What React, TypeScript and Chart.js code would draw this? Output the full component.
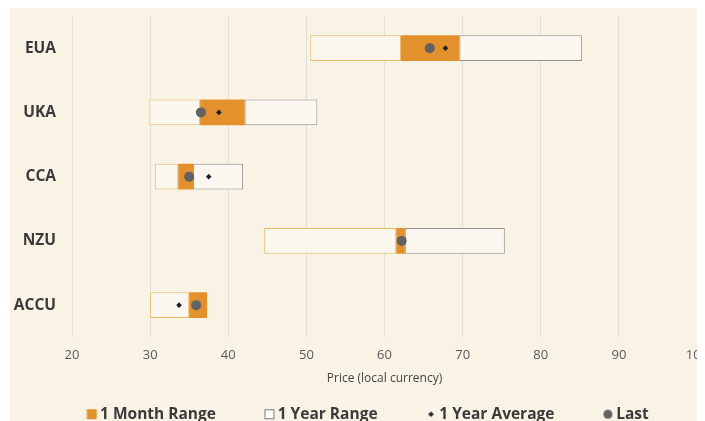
import React, { useEffect, useRef } from "react";
import { Chart, registerables } from "chart.js";

Chart.register(...registerables);

const categories = ["EUA", "UKA", "CCA", "NZU", "ACCU"];
const yearLow = [50.5, 29.9, 30.6, 44.6, 30.0];
const yearHigh = [85.3, 51.4, 41.9, 75.4, 37.3];
const monthLow = [62.1, 36.4, 33.6, 61.5, 35.0];
const monthHigh = [69.6, 42.1, 35.5, 62.6, 37.3];
const lastPrice = [65.8, 36.5, 35.0, 62.2, 35.9];
const yearAverage = [67.8, 38.8, 37.5, 62.0, 33.7];
const xMin = 20;
const xMax = 100;
const xStep = 10;
const axisTitle = "Price (local currency)";
const legendLabels = ["1 Month Range", "1 Year Range", "1 Year Average", "Last"];

const BG = "#F9F3E6";
const ORANGE = "#E2912D";
const BOX_FILL = "#FCF7EE";
const BOX_BORDER_LEFT = "#E9B766";
const BOX_BORDER_RIGHT = "#8F8F8F";
const LAST_COLOR = "#626262";
const AVG_COLOR = "#18202B";
const FONT = "'Open Sans', sans-serif";

const LEGEND_BOX = 44;

function makeMarker(draw: (ctx: CanvasRenderingContext2D, cx: number, cy: number) => void) {
  const c = document.createElement("canvas");
  c.width = LEGEND_BOX + 20;
  c.height = 16;
  const ctx = c.getContext("2d")!;
  draw(ctx, LEGEND_BOX + 9.5, 8);
  return c;
}

export default function App() {
  const ref = useRef<HTMLCanvasElement | null>(null);

  useEffect(() => {
    if (!ref.current) return;
    Chart.defaults.font.family = FONT;

    const mMonth = makeMarker((ctx, cx, cy) => {
      ctx.fillStyle = ORANGE;
      ctx.fillRect(cx - 5, cy - 5, 10, 10);
    });
    const mYear = makeMarker((ctx, cx, cy) => {
      ctx.fillStyle = "#FFFFFF";
      ctx.fillRect(cx - 5, cy - 5, 10, 10);
      ctx.strokeStyle = "#7A7A7A";
      ctx.lineWidth = 1;
      ctx.strokeRect(cx - 4.5, cy - 4.5, 9, 9);
    });
    const mAvg = makeMarker((ctx, cx, cy) => {
      ctx.fillStyle = AVG_COLOR;
      ctx.beginPath();
      ctx.moveTo(cx, cy - 2.8);
      ctx.lineTo(cx + 2.8, cy);
      ctx.lineTo(cx, cy + 2.8);
      ctx.lineTo(cx - 2.8, cy);
      ctx.closePath();
      ctx.fill();
    });
    const mLast = makeMarker((ctx, cx, cy) => {
      ctx.fillStyle = LAST_COLOR;
      ctx.beginPath();
      ctx.arc(cx, cy, 4.5, 0, Math.PI * 2);
      ctx.fill();
    });
    const markers = [mMonth, mYear, mAvg, mLast];
    const legendDatasetIdx = [2, 0, 4, 3];

    const chart = new Chart(ref.current, {
      type: "bar",
      data: {
        labels: categories,
        datasets: [
          {
            type: "bar",
            label: "1 Year Range (low)",
            data: categories.map((_, i) => [yearLow[i], monthLow[i]]),
            backgroundColor: BOX_FILL,
            borderColor: BOX_BORDER_LEFT,
            borderWidth: 1,
            borderSkipped: false,
            grouped: false,
            order: 4,
          } as any,
          {
            type: "bar",
            label: "1 Year Range (high)",
            data: categories.map((_, i) => [monthHigh[i], yearHigh[i]]),
            backgroundColor: BOX_FILL,
            borderColor: BOX_BORDER_RIGHT,
            borderWidth: 1,
            borderSkipped: false,
            grouped: false,
            order: 3,
          } as any,
          {
            type: "bar",
            label: "1 Month Range",
            data: categories.map((_, i) => [monthLow[i], monthHigh[i]]),
            backgroundColor: ORANGE,
            borderWidth: 0,
            grouped: false,
            order: 2,
          } as any,
          {
            type: "line",
            label: "Last",
            indexAxis: "y",
            data: categories.map((c, i) => ({ x: lastPrice[i], y: c })),
            showLine: false,
            pointStyle: "circle",
            pointRadius: 5,
            pointBackgroundColor: LAST_COLOR,
            pointBorderWidth: 0,
            order: 0,
          } as any,
          {
            type: "line",
            label: "1 Year Average",
            indexAxis: "y",
            data: categories.map((c, i) => ({ x: yearAverage[i], y: c })),
            showLine: false,
            pointStyle: "rectRot",
            pointRadius: 2.8,
            pointBackgroundColor: AVG_COLOR,
            pointBorderWidth: 0,
            order: 1,
          } as any,
        ],
      },
      options: {
        indexAxis: "y",
        responsive: false,
        animation: false,
        devicePixelRatio: 1,
        layout: { padding: { left: -10, right: 51, top: 8, bottom: 0 } },
        datasets: {
          bar: { categoryPercentage: 0.4, barPercentage: 1 },
        },
        scales: {
          x: {
            type: "linear",
            min: xMin,
            max: xMax,
            grid: { color: "#E4DFD6", drawTicks: false, lineWidth: 1 },
            border: { display: false },
            ticks: {
              stepSize: xStep,
              padding: 10,
              color: "#595959",
              font: { size: 13, family: FONT },
            },
            title: {
              display: true,
              text: axisTitle,
              color: "#444444",
              font: { size: 12, family: FONT },
              padding: { top: 8, bottom: 11 },
            },
            afterFit: (scale: any) => {
              scale.height = 59.25;
            },
          },
          y: {
            type: "category",
            grid: { display: false, drawTicks: false },
            border: { display: false },
            ticks: {
              padding: 16,
              color: "#3A3A3A",
              font: { size: 15.5, weight: "bold", family: FONT },
            },
            afterFit: (scale: any) => {
              scale.width = 72;
              scale.paddingTop = 0;
              scale.paddingBottom = 0;
            },
          },
        },
        plugins: {
          tooltip: { enabled: false },
          legend: {
            position: "bottom",
            align: "center",
            labels: {
              usePointStyle: true,
              pointStyleWidth: LEGEND_BOX,
              padding: 10,
              color: "#3A3A3A",
              font: { size: 15.5, weight: "bold", family: FONT },
              generateLabels: () =>
                legendLabels.map((text, i) => ({
                  text,
                  pointStyle: markers[i],
                  fillStyle: "rgba(0,0,0,0)",
                  strokeStyle: "rgba(0,0,0,0)",
                  lineWidth: 0,
                  hidden: false,
                  datasetIndex: legendDatasetIdx[i],
                  fontColor: "#3A3A3A",
                })),
            },
          },
        },
      } as any,
    });
    return () => chart.destroy();
  }, []);

  return (
    <div
      style={{
        marginLeft: 2,
        width: 695,
        height: 413,
        overflow: "hidden",
        background: BG,
        position: "relative",
      }}
    >
      <canvas ref={ref} width={738} height={424} style={{ width: 738, height: 424, display: "block" }} />
    </div>
  );
}
